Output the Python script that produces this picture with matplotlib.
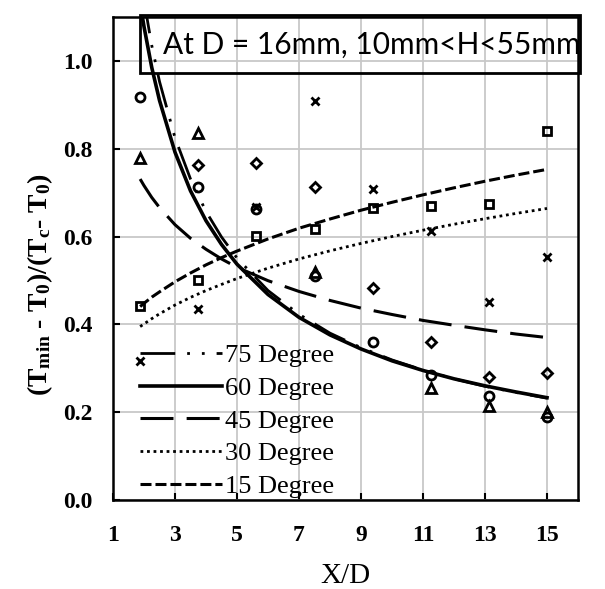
import numpy as np
import matplotlib
matplotlib.use("Agg")
import matplotlib.pyplot as plt
from matplotlib.patches import Rectangle

plt.rcParams['mathtext.fontset'] = 'custom'
plt.rcParams['mathtext.rm'] = 'Liberation Serif:bold'
plt.rcParams['mathtext.it'] = 'Liberation Serif:italic:bold'
plt.rcParams['mathtext.bf'] = 'Liberation Serif:bold'

nan = np.nan
# ---- measured data (X/D positions) ----
XD = [1.875, 3.75, 5.625, 7.5, 9.375, 11.25, 13.125, 15.0]
pts_75 = [0.778, 0.835, nan, 0.52, nan, 0.256, 0.213, 0.200]     # triangles
pts_60 = [0.918, 0.714, 0.662, 0.510, 0.360, 0.285, 0.236, 0.190]  # circles
pts_45 = [nan, 0.762, 0.767, 0.714, 0.483, 0.360, 0.281, 0.290]    # diamonds
pts_30 = [0.316, 0.435, 0.668, 0.908, 0.709, 0.613, 0.451, 0.554]  # crosses
pts_15 = [0.442, 0.500, 0.602, 0.618, 0.666, 0.670, 0.675, 0.840]  # squares

# ---- trend curves ----
curve_x = [1.875, 2.0, 2.25, 2.5, 3, 3.5, 4, 4.5, 5, 6, 7, 8, 9, 10, 11, 12, 13, 14, 15]
curve_75 = [1.196, 1.137, 1.035, 0.953, 0.825, 0.731, 0.657, 0.599, 0.551, 0.477,
            0.423, 0.380, 0.347, 0.319, 0.296, 0.276, 0.259, 0.245, 0.232]
curve_60 = [1.132, 1.078, 0.985, 0.910, 0.792, 0.704, 0.636, 0.582, 0.537, 0.468,
            0.416, 0.376, 0.344, 0.317, 0.295, 0.276, 0.260, 0.246, 0.233]
curve_45 = [0.731, 0.716, 0.689, 0.666, 0.627, 0.596, 0.571, 0.549, 0.530, 0.4995,
            0.475, 0.4545, 0.437, 0.4225, 0.409, 0.398, 0.3876, 0.378, 0.370]
curve_30 = [0.395, 0.401, 0.413, 0.424, 0.444, 0.4615, 0.477, 0.491, 0.5045, 0.528,
            0.549, 0.5675, 0.5844, 0.600, 0.6145, 0.628, 0.6407, 0.6527, 0.664]
curve_15 = [0.4405, 0.448, 0.462, 0.474, 0.497, 0.517, 0.5355, 0.552, 0.567, 0.5946,
            0.619, 0.640, 0.660, 0.678, 0.695, 0.711, 0.726, 0.740, 0.753]

labels = ["75 Degree", "60 Degree", "45 Degree", "30 Degree", "15 Degree"]
x_ticks = [1, 3, 5, 7, 9, 11, 13, 15]
y_ticks = [0.0, 0.2, 0.4, 0.6, 0.8, 1.0]
title_text = "At D = 16mm, 10mm<H<55mm"

fig = plt.figure(figsize=(6.05, 5.89), dpi=100)
ax = fig.add_axes([0.1868, 0.1511, 0.7686, 0.8200])

# markers
mk = dict(linestyle='none', color='black', mfc='none', mew=2.0, zorder=4)
ax.plot(XD, pts_75, marker='^', ms=7, **mk)
ax.plot(XD, pts_60, marker='o', ms=6.5, **mk)
ax.plot(XD, pts_45, marker='D', ms=5.5, **mk)
ax.plot(XD, pts_30, marker='x', ms=6, **mk)
ax.plot(XD, pts_15, marker='s', ms=6, **mk)

# curves
h75, = ax.plot(curve_x, curve_75, color='black', lw=2.0,
               dashes=(12.5, 4.3, 1, 4.3, 1, 4.3), label=labels[0], zorder=3)
h60, = ax.plot(curve_x, curve_60, color='black', lw=2.6, label=labels[1], zorder=3)
h45, = ax.plot(curve_x, curve_45, color='black', lw=2.2, dashes=(10.8, 4.3),
               label=labels[2], zorder=3)
h30, = ax.plot(curve_x, curve_30, color='black', lw=2.0, dashes=(1, 1.35),
               label=labels[3], zorder=3)
h15, = ax.plot(curve_x, curve_15, color='black', lw=2.2, dashes=(3.6, 1.3),
               label=labels[4], zorder=3)

ax.set_xlim(1, 16)
ax.set_ylim(0, 1.1)
ax.set_xticks(x_ticks)
ax.set_yticks(y_ticks)
ax.set_yticklabels([f"{v:.1f}" for v in y_ticks])
ax.grid(True, color='#c8c8c8', lw=1.3)
ax.set_axisbelow(True)
for s in ax.spines.values():
    s.set_linewidth(1.8)
    s.set_color('black')
ax.tick_params(axis='both', direction='in', length=5, width=1.5)
ax.tick_params(axis='x', pad=18)
ax.tick_params(axis='y', pad=15)
for lab in ax.get_xticklabels() + ax.get_yticklabels():
    lab.set_fontfamily('Liberation Serif')
    lab.set_fontweight('bold')
    lab.set_fontsize(17)

ax.set_xlabel("X/D", fontfamily='Liberation Serif', fontsize=21, labelpad=12)
ax.set_ylabel(r"(T$_{\mathrm{min}}$ - T$_{\mathrm{0}}$)/(T$_{\mathrm{c}}$- T$_{\mathrm{0}}$)",
              fontfamily='Liberation Serif', fontweight='bold', fontsize=20)
ax.yaxis.set_label_coords(-0.125, 0.445)

leg = ax.legend(handles=[h75, h60, h45, h30, h15], loc='lower left',
                bbox_to_anchor=(0.058, 0.004), frameon=False,
                prop={'family': 'Liberation Serif', 'size': 19},
                handlelength=3.1, handletextpad=0.12, labelspacing=0.35,
                borderpad=0.0, borderaxespad=0.0)

# title box
rect = Rectangle((140 / 605, 1 - 73 / 589), 440 / 605, 58 / 589, transform=fig.transFigure,
                 fill=False, lw=2.0, edgecolor='black', zorder=10)
fig.patches.append(rect)
fig.text(163 / 605, 1 - 45 / 589, title_text, fontfamily='Lato', fontsize=21.5,
         va='center', ha='left')

fig.savefig("out.png", dpi=100)
